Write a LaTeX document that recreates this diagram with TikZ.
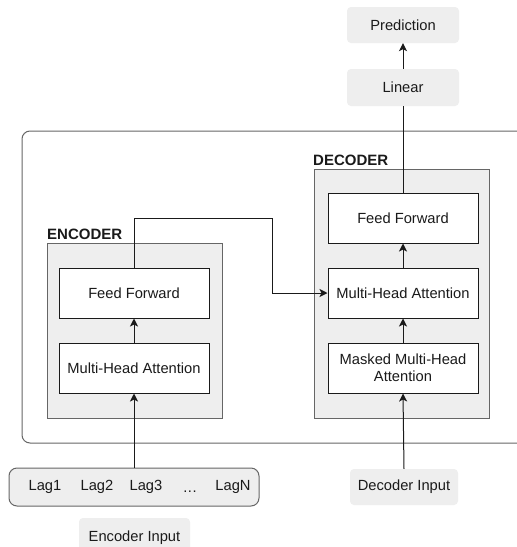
\documentclass[tikz,border=0pt]{standalone}
\usepackage{fontspec}
\setmainfont{Liberation Sans}
\usetikzlibrary{arrows.meta}
\definecolor{boxgray}{HTML}{EEEEEE}
\definecolor{edgegray}{HTML}{666666}
\definecolor{txt}{HTML}{1A1A1A}
\tikzset{
  every node/.style={font=\fontsize{14.7}{17}\selectfont, text=txt},
  plain/.style={draw=txt, fill=white, line width=1pt, minimum width=150pt, minimum height=50pt, inner sep=0pt, align=center},
  soft/.style={fill=boxgray, rounded corners=4pt, inner sep=0pt},
  group/.style={draw=edgegray, fill=boxgray, line width=0.8pt},
  lbl/.style={font=\bfseries\fontsize{15}{18}\selectfont, anchor=south west, inner sep=0pt},
  arr/.style={draw=txt, line width=1pt, -{Stealth[length=8pt,width=8pt,inset=2pt]}},
  ln/.style={draw=txt, line width=1pt}
}
\begin{document}
\begin{tikzpicture}[x=1pt,y=-1pt]
\useasboundingbox (0,0) rectangle (517,547);
\clip (0,0) rectangle (517,547);
\fill[white] (0,0) rectangle (517,547);
% outer container
\draw[draw=edgegray, line width=1pt, rounded corners=8pt] (22,131) rectangle (530,443);
% group boxes
\draw[group] (47,243) rectangle (222,418);
\draw[group] (314,169) rectangle (489,418);
\node[lbl] (enclbl) at (47,240) {ENCODER};
\node[lbl] (declbl) at (313,166) {DECODER};
% top nodes
\node[soft, minimum width=112pt, minimum height=36pt] (pred) at (403,25) {Prediction};
\node[soft, minimum width=112pt, minimum height=37pt] (lin) at (403,87.5) {Linear};
% encoder blocks
\node[plain] (eff) at (134,293) {Feed Forward};
\node[plain] (emha) at (134,368) {Multi-Head Attention};
% decoder blocks
\node[plain] (dff) at (403,218) {Feed Forward};
\node[plain] (dmha) at (403,293) {Multi-Head Attention};
\node[plain] (dmask) at (403,368) {Masked Multi-Head\\Attention};
% inputs
\node[draw=edgegray, fill=boxgray, line width=1pt, rounded corners=8pt, minimum width=250pt, minimum height=38pt] (encin) at (134,487) {};
\node (l1) at (45,487) {Lag1};
\node (l2) at (97,487) {Lag2};
\node (l3) at (146,487) {Lag3};
\node[anchor=base] (l4) at (190,492) {.\kern0.5pt.\kern0.5pt.};
\node (l5) at (233,487) {LagN};
\node[soft, minimum width=108pt, minimum height=36pt] (decin) at (404,487) {Decoder Input};
\node[soft, minimum width=111pt, minimum height=40pt] (encinlbl) at (134.5,538) {Encoder Input};
% connectors
\draw[arr] (lin.north) -- (pred.south);
\draw[ln] (dff.north) -- (lin.south);
\draw[arr] (dmha.north) -- (dff.south);
\draw[arr] (dmask.north) -- (dmha.south);
\draw[arr] (emha.north) -- (eff.south);
\draw[arr] (encin.north) -- (emha.south);
\draw[arr] (decin.north) -- (dmask.south);
\coordinate (k1) at (272,218);
\draw[arr] (eff.north) |- (k1) |- (dmha.west);
\end{tikzpicture}
\end{document}
